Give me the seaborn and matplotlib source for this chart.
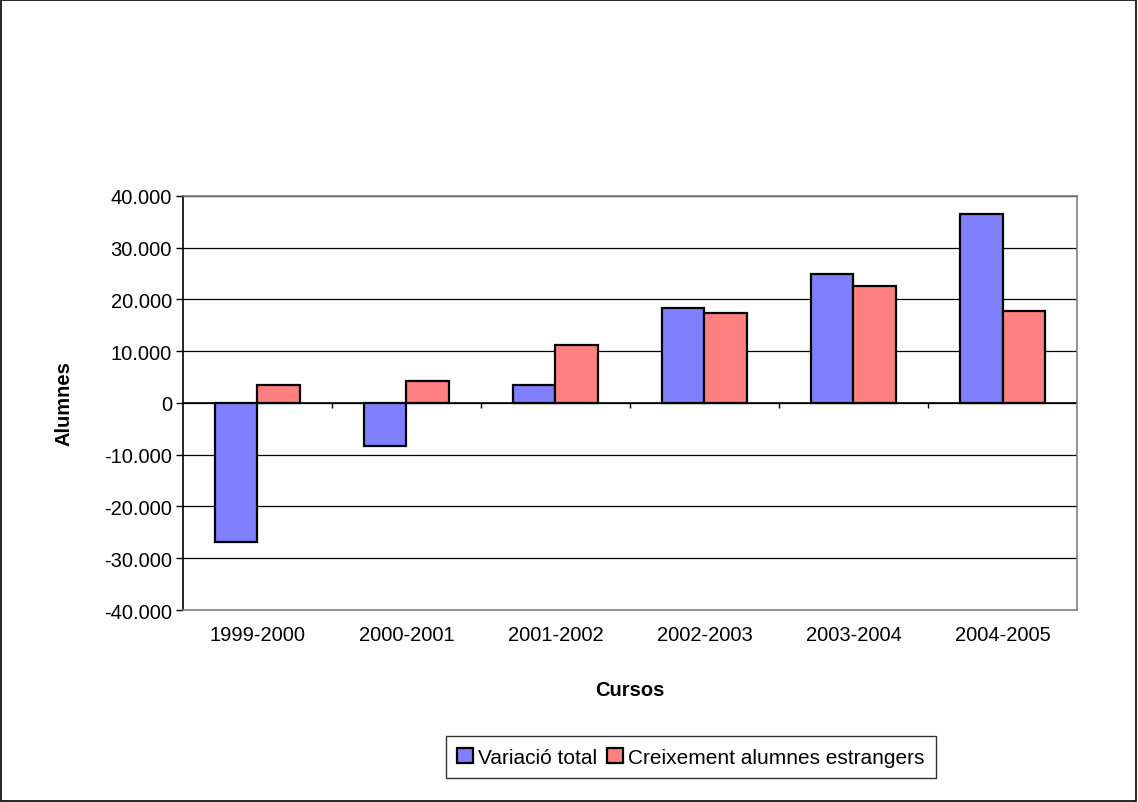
import matplotlib
matplotlib.use("Agg")
import matplotlib.pyplot as plt
import matplotlib.patches as mpatches
import matplotlib.ticker as mticker
import numpy as np
import pandas as pd
import seaborn as sns

cursos = ["1999-2000", "2000-2001", "2001-2002", "2002-2003", "2003-2004", "2004-2005"]
variacio_total = [-26800, -8300, 3450, 18450, 25000, 36600]
creixement_estrangers = [3450, 4250, 11200, 17350, 22700, 17700]
series_names = ["Variació total", "Creixement alumnes estrangers"]
colors = ["#8080FF", "#FF8080"]

df = pd.DataFrame({
    "curs": cursos * 2,
    "valor": variacio_total + creixement_estrangers,
    "serie": [series_names[0]] * len(cursos) + [series_names[1]] * len(cursos),
})

sns.set_theme(style="white")
plt.rcParams["font.family"] = ["Liberation Sans", "DejaVu Sans"]
plt.rcParams["text.color"] = "black"
plt.rcParams["axes.labelcolor"] = "black"
plt.rcParams["xtick.color"] = "black"
plt.rcParams["ytick.color"] = "black"

fig = plt.figure(figsize=(11.38, 8.03), dpi=100)
fig.patches.append(mpatches.Rectangle((0.0005, 0.001), 0.998, 0.998, transform=fig.transFigure,
                                      fill=False, edgecolor="black", linewidth=1.2))
ax = fig.add_axes([0.1608, 0.2391, 0.7856, 0.5156])

sns.barplot(data=df, x="curs", y="valor", hue="serie", hue_order=series_names,
            palette=colors, width=0.57, gap=0, edgecolor="black", linewidth=1.6,
            saturation=1, ax=ax)

ax.set_ylim(-40000, 40000)
ax.set_xlim(-0.5, len(cursos) - 0.5)
ax.yaxis.set_major_locator(mticker.MultipleLocator(10000))
ax.yaxis.set_major_formatter(mticker.FuncFormatter(lambda v, p: f"{int(v):,}".replace(",", ".")))
ax.grid(axis="y", color="black", linewidth=0.9)
ax.set_axisbelow(True)
ax.axhline(0, color="black", linewidth=1.2, zorder=1)
# category boundary ticks on the zero line
ax.vlines(np.arange(0.5, len(cursos) - 0.5), -900, 0, color="black", linewidth=1)

for side in ["top", "right", "bottom"]:
    ax.spines[side].set_color("#808080")
    ax.spines[side].set_linewidth(1.2)
ax.spines["left"].set_color("black")
ax.spines["left"].set_linewidth(1.2)

ax.tick_params(axis="y", left=True, length=5, width=1, color="black", labelsize=14.5, pad=3)
ax.tick_params(axis="x", bottom=False, labelsize=14.5, pad=5)

ax.set_xlabel("Cursos", fontsize=14.5, fontweight="bold", labelpad=26)
ax.set_ylabel("Alumnes", fontsize=14.5, fontweight="bold", labelpad=22)

handles, labels = ax.get_legend_handles_labels()
ax.legend_.remove()
leg = fig.legend(handles, labels, loc="center", bbox_to_anchor=(0.607, 0.056), ncol=2,
                 frameon=True, fancybox=False, edgecolor="black", fontsize=15,
                 handlelength=0.75, handleheight=0.75, handletextpad=0.25,
                 columnspacing=0.5, borderpad=0.55)
leg.get_frame().set_linewidth(1.0)

fig.savefig("out.png", dpi=100, facecolor="white")
